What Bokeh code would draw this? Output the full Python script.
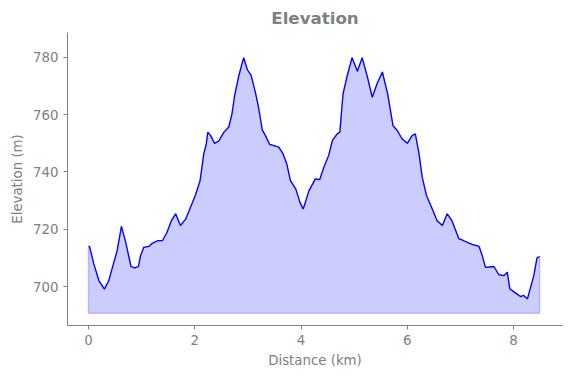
from bokeh.plotting import figure
from bokeh.models import Range1d, FixedTicker
from bokeh.embed import file_html
from bokeh.resources import INLINE

distance_km = [0.0, 0.02, 0.1, 0.195, 0.30, 0.38, 0.46, 0.54, 0.62, 0.70, 0.80, 0.87, 0.94, 0.98,
               1.04, 1.135, 1.2, 1.30, 1.39, 1.47, 1.56, 1.64, 1.73, 1.83, 1.92, 2.01, 2.10, 2.17,
               2.215, 2.245, 2.30, 2.37, 2.45, 2.55, 2.64, 2.70, 2.75, 2.83, 2.92, 2.99, 3.06, 3.14,
               3.20, 3.27, 3.33, 3.41, 3.54, 3.58, 3.66, 3.73, 3.80, 3.90, 3.98, 4.04, 4.08, 4.15,
               4.27, 4.35, 4.43, 4.52, 4.59, 4.68, 4.73, 4.79, 4.87, 4.96, 5.06, 5.15, 5.25, 5.34,
               5.43, 5.53, 5.63, 5.73, 5.81, 5.90, 6.00, 6.09, 6.15, 6.22, 6.28, 6.36, 6.47, 6.56,
               6.66, 6.75, 6.84, 6.97, 7.06, 7.22, 7.35, 7.41, 7.47, 7.63, 7.72, 7.82, 7.88, 7.93,
               8.04, 8.13, 8.19, 8.26, 8.32, 8.38, 8.44, 8.49]
elevation_m = [714.0, 714.0, 707.9, 702.1, 699.1, 702.0, 707.3, 712.6, 721.0, 715.5, 707.0, 706.5, 707.0, 710.8,
               713.7, 714.0, 715.1, 716.0, 716.0, 718.6, 723.0, 725.4, 721.3, 723.6, 727.7, 731.8, 737.0, 746.4,
               749.6, 753.9, 752.7, 750.0, 750.8, 753.9, 755.7, 760.3, 766.7, 773.7, 779.9, 775.7, 773.7, 767.9,
               762.6, 754.7, 752.7, 749.6, 748.9, 748.7, 746.4, 742.9, 737.0, 734.1, 729.4, 727.1, 729.4, 733.5,
               737.6, 737.3, 741.7, 745.8, 751.0, 753.3, 753.9, 767.3, 773.7, 779.9, 775.2, 779.9, 773.1, 766.1,
               770.8, 774.9, 767.3, 756.2, 754.5, 751.6, 750.0, 752.7, 753.3, 746.4, 738.2, 731.8, 727.1, 723.0,
               721.3, 725.4, 723.0, 716.7, 716.0, 714.7, 714.0, 710.8, 706.7, 707.0, 704.2, 703.8, 705.0, 699.2,
               697.7, 696.5, 696.9, 695.7, 699.8, 703.8, 710.0, 710.5]
fill_base = min(elevation_m) - 5
x_ticks = [0, 2, 4, 6, 8]
y_ticks = [700, 720, 740, 760, 780]

GRAY = "#808080"

p = figure(width=563, height=370, output_backend="svg", toolbar_location=None,
           x_range=Range1d(-0.395, 8.92), y_range=Range1d(686.4, 788.7),
           title="Elevation", min_border_left=67, min_border_right=1,
           min_border_top=32, min_border_bottom=45)

px = [distance_km[0]] + distance_km + [distance_km[-1]]
py = [fill_base] + elevation_m + [fill_base]
p.patch(px, py, fill_color="blue", fill_alpha=0.2, line_color="blue", line_alpha=0.2, line_width=1.5)
p.line(distance_km, elevation_m, line_color="blue", line_width=1.3)

p.title.align = "center"
p.title.text_color = GRAY
p.title.text_font = "DejaVu Sans"
p.title.text_font_size = "12.5pt"
p.title.text_font_style = "bold"

p.xgrid.visible = False
p.ygrid.visible = False
p.outline_line_color = None

for ax in (p.xaxis[0], p.yaxis[0]):
    ax.axis_line_color = GRAY
    ax.major_tick_line_color = GRAY
    ax.minor_tick_line_color = None
    ax.major_tick_out = 4
    ax.major_tick_in = 0
    ax.major_label_text_color = GRAY
    ax.major_label_text_font = "DejaVu Sans"
    ax.major_label_text_font_size = "10pt"
    ax.axis_label_text_color = GRAY
    ax.axis_label_text_font = "DejaVu Sans"
    ax.axis_label_text_font_size = "10pt"
    ax.axis_label_text_font_style = "normal"

p.xaxis.ticker = FixedTicker(ticks=x_ticks)
p.yaxis.ticker = FixedTicker(ticks=y_ticks)
p.xaxis.axis_label = "Distance (km)"
p.yaxis.axis_label = "Elevation (m)"

open("out.html", "w").write(file_html(p, INLINE))
